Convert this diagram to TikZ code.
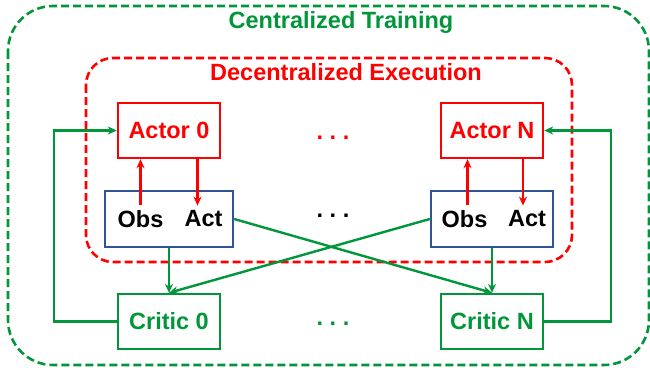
\documentclass[tikz,border=0pt]{standalone}
\usepackage{fontspec}
\setmainfont{Liberation Sans}
\usetikzlibrary{arrows.meta}
\definecolor{cgreen}{RGB}{0,150,57}
\definecolor{cred}{RGB}{255,0,0}
\definecolor{cblue}{RGB}{47,85,151}
\begin{document}
\frenchspacing
\begin{tikzpicture}[x=1pt,y=-1pt,
  font=\fontsize{23.5}{27}\selectfont\bfseries,
  box/.style={draw, line width=2.4pt, minimum width=102pt, minimum height=55pt, inner sep=0pt},
  lbl/.style={inner sep=5pt},
  arr/.style={line width=2.4pt, -{Stealth[length=9pt,width=8pt]}},
  region/.style={dash pattern=on 8pt off 4pt, line width=2.6pt}
]
\useasboundingbox (0,0) rectangle (650,376);
\draw[region, cgreen, rounded corners=45pt] (8,6) rectangle (649,365);
\draw[region, cred, rounded corners=27pt] (86,58) rectangle (572,262);
\node[cgreen, anchor=base] (ttrain) at (341,28) {Centralized Training};
\node[cred, anchor=base] (texec) at (346,80) {Decentralized Execution};

\node[box, draw=cred, text=cred] (actor0) at (169,130.5) {Actor 0};
\node[box, draw=cred, text=cred] (actorN) at (492,130.5) {Actor N};
\node[box, draw=cblue, minimum width=128pt, minimum height=56pt] (env0) at (169,219) {};
\node[box, draw=cblue, minimum width=122pt, minimum height=56pt] (envN) at (492,219) {};
\node[lbl] (obs0) at (140.5,219) {Obs};
\node[lbl] (act0) at (203.5,219) {Act};
\node[lbl] (obsN) at (464.5,219) {Obs};
\node[lbl] (actN) at (527,219) {Act};
\node[box, draw=cgreen, text=cgreen] (critic0) at (169,321.5) {Critic 0};
\node[box, draw=cgreen, text=cgreen] (criticN) at (492,321.5) {Critic N};

\node[cred, anchor=base] (dots1) at (333,139) {. . .};
\node[anchor=base] (dots2) at (333,217) {. . .};
\node[cgreen, anchor=base] (dots3) at (333,325) {. . .};

\draw[arr, cred] (obs0.north) -- (obs0.north |- actor0.south);
\draw[arr, cred] ([xshift=-6pt]act0.north |- actor0.south) -- ([xshift=-6pt]act0.north);
\draw[arr, cred] ([xshift=3pt]obsN.north) -- ([xshift=3pt]obsN.north |- actorN.south);
\draw[arr, cred] ([xshift=-4pt]actN.north |- actorN.south) -- ([xshift=-4pt]actN.north);

\draw[arr, cgreen] (critic0.west) -- ++(-63,0) |- (actor0.west);
\draw[arr, cgreen] (criticN.east) -- ++(67,0) |- (actorN.east);
\draw[arr, cgreen] (env0.south) -- (critic0.north);
\draw[arr, cgreen] (envN.south) -- (criticN.north);
\draw[arr, cgreen] (env0.east) -- (criticN.north);
\draw[arr, cgreen] (envN.west) -- (critic0.north);
\end{tikzpicture}
\end{document}
